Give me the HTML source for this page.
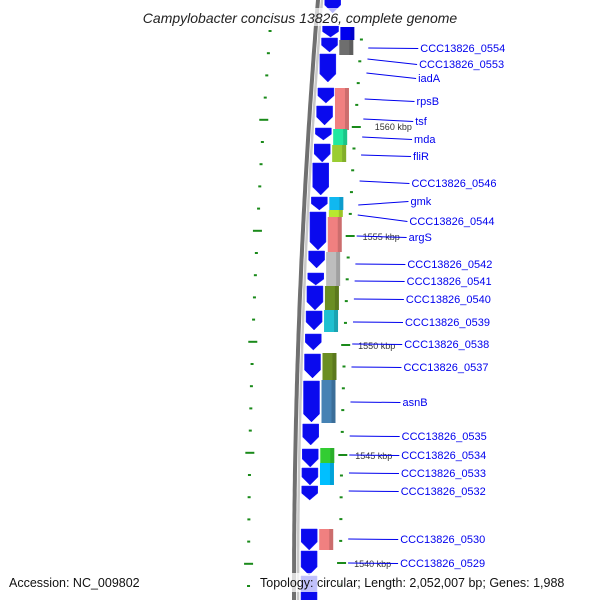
<!DOCTYPE html>
<html><head><meta charset="utf-8"><style>
html,body{margin:0;padding:0;background:#fff;width:600px;height:600px;overflow:hidden}
svg{display:block;font-family:"Liberation Sans","DejaVu Sans",sans-serif}
</style></head><body>
<svg id="map" width="600" height="600" viewBox="0 0 600 600" xmlns="http://www.w3.org/2000/svg"></svg>
<script>
// gene arrows (y start, y end in view pixels along the map)
const geneStarts = [-5,25,37,53,87,105,127,143,162,196,211,250,272,285,310,333,353,380,423,448,467,485,528,550,575];
const geneEnds   = [13,37,52,82,103,125,140,162,195,210,250,268,285,310,330,350,378,422,445,467,485,500,550,575,610];
// feature colour blocks
const boxStarts = [27,40,88,129,145,197,210,217,252,286,310,353,380,448,463,529];
const boxEnds   = [40,55,130,145,162,210,217,252,286,310,332,380,423,463,485,550];
const boxColors = ["#0000ee","#6e6e6e","#f08080","#20e8a0","#9acd32","#10b8f0","#b8e830","#f08080","#bdbdbd","#6b8e23","#20c0d0","#6b8e23","#4682b4","#32cd32","#00bfff","#f08080"];
// gene labels
const labelNames = ["CCC13826_0554","CCC13826_0553","iadA","rpsB","tsf","mda","fliR","CCC13826_0546","gmk","CCC13826_0544","argS","CCC13826_0542","CCC13826_0541","CCC13826_0540","CCC13826_0539","CCC13826_0538","CCC13826_0537","asnB","CCC13826_0535","CCC13826_0534","CCC13826_0533","CCC13826_0532","CCC13826_0530","CCC13826_0529"];
const labelY = [48,64,78,101,121,139,156,183,201,221,237,264,281,299,322,344,367,402,436,455,473,491,539,563];
const anchorY = [48,59,73,99,119,137,155,181,205,215,236,264,281,299,322,344,367,402,436,455,473,491,539,563];
// kbp ruler
const kbpLabels = ["1560 kbp","1555 kbp","1550 kbp","1545 kbp","1540 kbp"];
const kbpY = [127,236,345,455,563];

const NS="http://www.w3.org/2000/svg";
const svgRoot=document.getElementById('map');
function bx(y){return 318-0.0811*y+0.00006857*y*y;}
function mk(tag,attrs){const e=document.createElementNS(NS,tag);for(const k in attrs)e.setAttribute(k,attrs[k]);svgRoot.appendChild(e);return e;}

// backbone
let d1="",d2="";
for(let y=-5;y<=605;y+=5){d1+=(y===-5?"M":"L")+bx(y).toFixed(1)+","+y+" ";d2+=(y===-5?"M":"L")+(bx(y)+4).toFixed(1)+","+y+" ";}
const bb=mk('path',{d:d1,stroke:"#707070","stroke-width":4,fill:"none"});


const bb2=mk('path',{d:d2,stroke:"#c8c8c8","stroke-width":2.5,fill:"none"});



// tick dots
for(let i=0;i<26;i++){
  const yl=31+i*22.2, yr=39.5+i*21.8;
  const isLongR=kbpY.some(k=>Math.abs(k-yr)<3);
  const isLongL=[120,230,341,453,565].some(k=>Math.abs(k-yl)<3);
  const l=mk('rect',{x:bx(yl)-46-(isLongL?4:1),y:yl-1,width:isLongL?9:3,height:2,fill:"#1a8a1a"});
  
  
  if(!isLongR){const r=mk('rect',{x:bx(yr)+45,y:yr-1,width:3,height:2,fill:"#1a8a1a"});
  
  }
}
kbpY.forEach((y,i)=>{
  const t=mk('rect',{x:bx(y)+43,y:y-1,width:9,height:2,fill:"#1a8a1a"});
  
  
  const tx=mk('text',{x:bx(y)+60+(i===0?6:0),y:y+(i===0?3:4),"font-size":9,fill:"#333"});
  tx.textContent=kbpLabels[i];
  
  
});

// gene arrows
geneStarts.forEach((s,i)=>{
  const e=geneEnds[i];const m=(s+e)/2;const x0=bx(m)+7,w=16;const tip=Math.min(8,(e-s)*0.45);
  const p=mk('polygon',{points:`${x0},${s+1} ${x0+w},${s+1} ${x0+w},${e-tip} ${x0+w/2},${e} ${x0},${e-tip}`,fill:"#0a0aee",stroke:"#2020ff","stroke-width":0.5});
  
  
});
// colour blocks
boxStarts.forEach((s,i)=>{
  const e=boxEnds[i];const m=(s+e)/2;const x0=bx(m)+25;
  const r=mk('rect',{x:x0,y:s,width:14,height:e-s,fill:boxColors[i]});
  
  
  const sh=mk('rect',{x:x0+10,y:s,width:4,height:e-s,fill:"#000","fill-opacity":0.15});
  
  
});
// labels
labelNames.forEach((n,i)=>{
  const ay=anchorY[i],ly=labelY[i];
  const tx0=bx(ly)+106;
  const ln=mk('line',{x1:bx(ay)+54,y1:ay,x2:tx0-2,y2:ly+0.5,stroke:"#0000ee","stroke-width":1});
  
  
  const t=mk('text',{x:tx0,y:ly+4,"font-size":11,fill:"#0000ee"});
  t.textContent=n;
  
  
});
// title & footer
const titleBg=mk('rect',{x:120,y:8,width:360,height:18,fill:"#fff","fill-opacity":0.7});


const titleText=mk('text',{x:300,y:23,"font-size":14,"font-style":"italic","text-anchor":"middle",fill:"#222"});
titleText.textContent="Campylobacter concisus 13826, complete genome";


const footerBg=mk('rect',{x:257,y:573,width:337,height:19,fill:"#fff","fill-opacity":0.75});


const accText=mk('text',{x:9,y:587,"font-size":12.5,fill:"#111"});
accText.textContent="Accession: NC_009802";


const topologyText=mk('text',{x:260,y:587,"font-size":12.5,fill:"#111"});
topologyText.textContent="Topology: circular; Length: 2,052,007 bp; Genes: 1,988";


</script>
</body></html>
